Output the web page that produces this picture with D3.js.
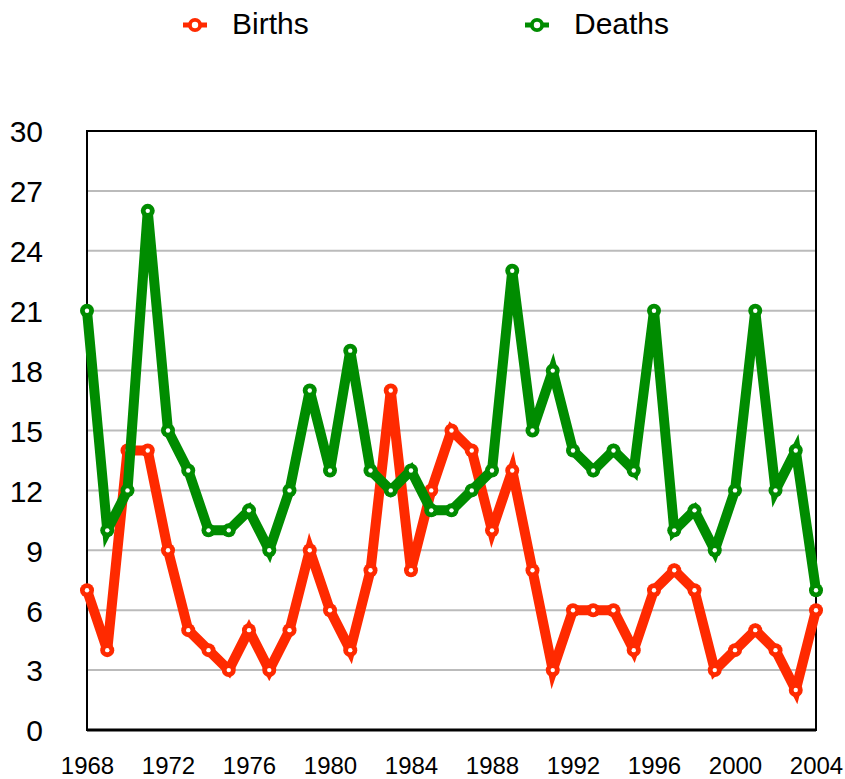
<!DOCTYPE html>
<html><head><meta charset="utf-8">
<script src="https://cdn.jsdelivr.net/npm/d3@7"></script>
<style>body{margin:0;background:#fff}svg{display:block}text{font-family:"Liberation Sans",Arial,Helvetica,sans-serif;fill:#000}</style>
</head><body>
<script>
const years = d3.range(1968, 2005);
const births = [7,4,14,14,9,5,4,3,5,3,5,9,6,4,8,17,8,12,15,14,10,13,8,3,6,6,6,4,7,8,7,3,4,5,4,2,6];
const deaths = [21,10,12,26,15,13,10,10,11,9,12,17,13,19,13,12,13,11,11,12,13,23,15,18,14,13,14,13,21,10,11,9,12,21,12,14,7];
const yTicks = [0,3,6,9,12,15,18,21,24,27,30];
const xTicks = [1968,1972,1976,1980,1984,1988,1992,1996,2000,2004];
const seriesNames = ["Births","Deaths"];
const seriesColors = ["#ff2a00","#008c00"];

const W=845,H=779, L=87, R=816, T=131, B=730;
const svg=d3.select("body").append("svg").attr("width",W).attr("height",H);
const x=d3.scaleLinear().domain([1968,2004]).range([L,R]);
const y=d3.scaleLinear().domain([0,30]).range([B,T]);

// gridlines
svg.append("g").selectAll("line").data(yTicks.filter(d=>d>0&&d<30)).join("line")
 .attr("x1",L).attr("x2",R).attr("y1",d=>y(d)).attr("y2",d=>y(d))
 .attr("stroke","#bbbbbb").attr("stroke-width",2);

// frame
svg.append("rect").attr("x",L).attr("y",T).attr("width",R-L).attr("height",B-T)
 .attr("fill","none").attr("stroke","#000").attr("stroke-width",2);
svg.append("line").attr("x1",L).attr("x2",R).attr("y1",B).attr("y2",B).attr("stroke","#000").attr("stroke-width",3);

// y axis labels
const yAxis=d3.axisLeft(y).tickValues(yTicks).tickSize(0).tickPadding(0);
const gy=svg.append("g").attr("transform",`translate(${43},0)`).call(yAxis);
gy.select(".domain").remove();
gy.selectAll("text").attr("font-size",30).attr("font-family","Liberation Sans, Arial, sans-serif").attr("fill","#000").attr("dy","0.36em");

// x axis labels
const xAxis=d3.axisBottom(x).tickValues(xTicks).tickFormat(d3.format("d")).tickSize(0).tickPadding(0);
const gx=svg.append("g").attr("transform",`translate(0,${774})`).call(xAxis);
gx.select(".domain").remove();
gx.selectAll("text").attr("font-size",24).attr("font-family","Liberation Sans, Arial, sans-serif").attr("fill","#000").attr("dy","0");

const line=d3.line().x((d,i)=>x(years[i])).y(d=>y(d));
[births,deaths].forEach((data,k)=>{
  const c=seriesColors[k];
  const g=svg.append("g");
  g.append("path").datum(data).attr("d",line).attr("fill","none").attr("stroke",c)
   .attr("stroke-width",10).attr("stroke-linejoin","miter").attr("stroke-miterlimit",4);
  g.selectAll("circle.o").data(data).join("circle").attr("class","o")
   .attr("cx",(d,i)=>x(years[i])).attr("cy",d=>y(d)).attr("r",7).attr("fill",c);
  g.selectAll("circle.i").data(data).join("circle").attr("class","i")
   .attr("cx",(d,i)=>x(years[i])).attr("cy",d=>y(d)).attr("r",2.2).attr("fill","#fff");
});

// legend
const lx=[195,537];
seriesNames.forEach((n,k)=>{
  const c=seriesColors[k];
  const g=svg.append("g").attr("transform",`translate(${lx[k]},25)`);
  g.append("line").attr("x1",-12).attr("x2",12).attr("stroke",c).attr("stroke-width",5);
  g.append("circle").attr("r",7).attr("fill",c);
  g.append("circle").attr("r",3.2).attr("fill","#fff");
  g.append("text").attr("x",37).attr("y",9).attr("font-size",30).text(n);
});
</script>
</body></html>
